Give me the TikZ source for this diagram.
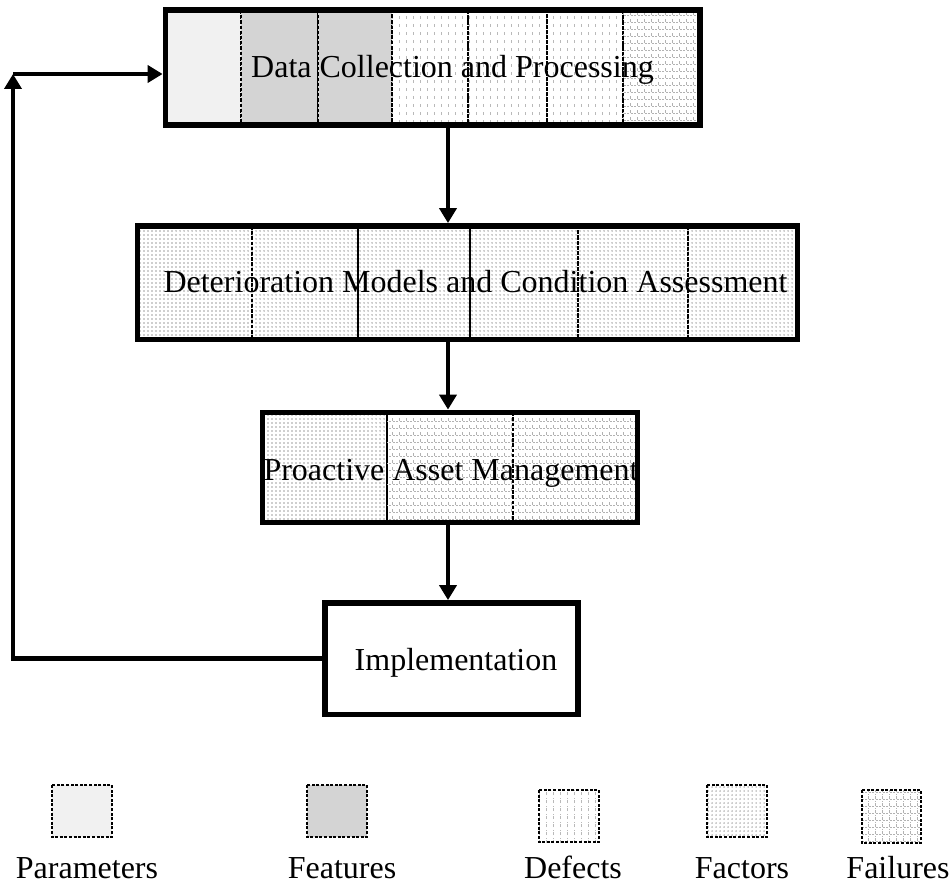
\documentclass[tikz,border=0pt]{standalone}
\usepackage{fontspec}
\setmainfont{Liberation Serif}
\usetikzlibrary{patterns.meta,fit,arrows.meta}

\definecolor{paramgray}{HTML}{F1F1F1}
\definecolor{featgray}{HTML}{D4D4D4}

% vertical dashed hatching (defects)
\pgfdeclarepattern{
  name=defectlines,
  type=uncolored,
  bottom left={\pgfpoint{-0.3pt}{-0.3pt}},
  top right={\pgfpoint{3.8pt}{4.3pt}},
  tile size={\pgfpoint{3.5pt}{4pt}},
  code={
    \pgfsetlinewidth{0.45pt}
    \pgfpathmoveto{\pgfpoint{0pt}{0pt}}
    \pgfpathlineto{\pgfpoint{0pt}{2.6pt}}
    \pgfusepath{stroke}
  }
}
% fine dot screen (factors)
\pgfdeclarepattern{
  name=factordots,
  type=uncolored,
  bottom left={\pgfpoint{-1pt}{-1pt}},
  top right={\pgfpoint{1pt}{1pt}},
  tile size={\pgfpoint{2pt}{2pt}},
  code={
    \pgfpathcircle{\pgfpointorigin}{0.38pt}
    \pgfusepath{fill}
  }
}
% broken grid (failures)
\pgfdeclarepattern{
  name=failuregrid,
  type=uncolored,
  bottom left={\pgfpoint{-0.3pt}{-0.3pt}},
  top right={\pgfpoint{3.8pt}{3.8pt}},
  tile size={\pgfpoint{3.5pt}{3.5pt}},
  code={
    \pgfsetlinewidth{0.45pt}
    \pgfpathmoveto{\pgfpoint{0pt}{0pt}}
    \pgfpathlineto{\pgfpoint{0pt}{2.4pt}}
    \pgfpathmoveto{\pgfpoint{0.3pt}{0pt}}
    \pgfpathlineto{\pgfpoint{1.3pt}{0pt}}
    \pgfpathmoveto{\pgfpoint{2.0pt}{0pt}}
    \pgfpathlineto{\pgfpoint{3.0pt}{0pt}}
    \pgfusepath{stroke}
  }
}

\begin{document}
\begin{tikzpicture}[
  x=0.5pt, y=-0.5pt,
  every node/.style={font=\fontsize{16}{19}\selectfont, inner sep=0pt},
  celledge/.style={draw=black, line width=0.55pt, dash pattern=on 1.6pt off 1pt},
  keyedge/.style={draw=black, line width=0.8pt, dash pattern=on 1.5pt off 0.8pt},
  paramcell/.style={fill=paramgray},
  featcell/.style={fill=featgray},
  defectcell/.style={pattern=defectlines, pattern color=gray!55},
  factorcell/.style={pattern=factordots, pattern color=gray!75},
  failcell/.style={pattern=failuregrid, pattern color=gray!60},
  mainbox/.style={draw=black, line width=2.9pt, inner sep=0pt},
  boxtext/.style={anchor=base},
  keytext/.style={anchor=base},
  flow/.style={draw=black, line width=2.3pt, -{Triangle[length=7.5pt,width=8.5pt]}},
]
% canvas
\fill[white] (0,0) rectangle (952,883);
\useasboundingbox (0,0) rectangle (952,883);

% ---- Data Collection and Processing: cells ----
\fill[white] (165.5,10) rectangle (700,125);
\draw[celledge, paramcell]  (165.5,10) rectangle (241,125);
\draw[celledge, featcell]   (241,10) rectangle (318,125);
\draw[celledge, featcell]   (318,10) rectangle (392,125);
\draw[celledge, defectcell] (392,10) rectangle (468,125);
\draw[celledge, defectcell] (468,10) rectangle (547,125);
\draw[celledge, defectcell] (547,10) rectangle (623,125);
\draw[celledge, failcell]   (623,10) rectangle (700,125);
\node[mainbox, fit={(165.5,10) (700,125)}] (dc) {};
\node[boxtext] (dctext) at (452.5,78) {Data Collection and Processing};

% ---- Deterioration Models and Condition Assessment: cells ----
\fill[white] (137.5,226) rectangle (797.5,339.5);
\draw[celledge, factorcell] (137.5,226) rectangle (252,339.5);
\draw[celledge, factorcell] (252,226) rectangle (358,339.5);
\draw[celledge, factorcell] (358,226) rectangle (470,339.5);
\draw[celledge, factorcell] (470,226) rectangle (578,339.5);
\draw[celledge, factorcell] (578,226) rectangle (688,339.5);
\draw[celledge, factorcell] (688,226) rectangle (797.5,339.5);
\node[mainbox, fit={(137.5,226) (797.5,339.5)}] (dm) {};
\node[boxtext] (dmtext) at (475.5,292) {Deterioration Models and Condition Assessment};

% ---- Proactive Asset Management: cells ----
\fill[white] (262.5,412.5) rectangle (637.5,522.5);
\draw[celledge, factorcell] (262.5,412.5) rectangle (387,522.5);
\draw[celledge, failcell]   (387,412.5) rectangle (513,522.5);
\draw[celledge, failcell]   (513,412.5) rectangle (637.5,522.5);
\node[mainbox, fit={(262.5,412.5) (637.5,522.5)}] (pam) {};
\node[boxtext] (pamtext) at (451,480) {Proactive Asset Management};

% ---- Implementation ----
\node[mainbox, fill=white, fit={(325,603) (578,714.5)}] (impl) {};
\node[boxtext] (impltext) at (456,670) {Implementation};

% ---- flow arrows ----
\coordinate (spine) at (448,0);
\draw[flow] (dc.south -| spine) -- (dm.north -| spine);
\draw[flow] (dm.south -| spine) -- (pam.north -| spine);
\draw[flow] (pam.south -| spine) -- (impl.north -| spine);

% feedback loop
\coordinate (loopcorner) at (13,74);
\draw[flow] (impl.west) -| (loopcorner);
\draw[flow] (loopcorner) -- (dc.west |- loopcorner);

% ---- key ----
\draw[keyedge, paramcell]  (52,785) rectangle (112,837);
\node[fit={(52,785) (112,837)}] (kparam) {};
\node[keytext] (kparamtext) at (87,878) {Parameters};

\draw[keyedge, featcell]   (307,785) rectangle (367,837);
\node[fit={(307,785) (367,837)}] (kfeat) {};
\node[keytext] (kfeattext) at (342,878) {Features};

\fill[white] (539,790) rectangle (599,842);
\draw[keyedge, defectcell] (539,790) rectangle (599,842);
\node[fit={(539,790) (599,842)}] (kdefect) {};
\node[keytext] (kdefecttext) at (573,878) {Defects};

\fill[white] (707,785) rectangle (767,837);
\draw[keyedge, factorcell] (707,785) rectangle (767,837);
\node[fit={(707,785) (767,837)}] (kfactor) {};
\node[keytext] (kfactortext) at (742,878) {Factors};

\fill[white] (862,790) rectangle (921,843);
\draw[keyedge, failcell]   (862,790) rectangle (921,843);
\node[fit={(862,790) (921,843)}] (kfail) {};
\node[keytext] (kfailtext) at (898,878) {Failures};
\end{tikzpicture}
\end{document}
